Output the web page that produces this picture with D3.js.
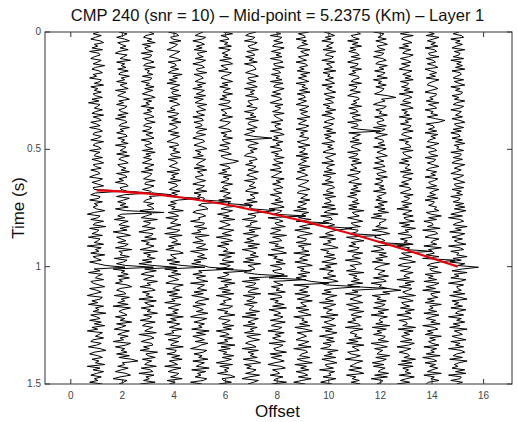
<!DOCTYPE html>
<html>
<head>
<meta charset="utf-8">
<script src="https://cdn.jsdelivr.net/npm/d3@7"></script>
<style>
  body { margin: 0; background: #fff; }
  svg { display: block; font-family: "Liberation Sans", Arial, sans-serif; }
</style>
</head>
<body>
<div id="chart"></div>
<script>
// Offsets (one trace per offset) and axis ticks
const offsets = [1, 2, 3, 4, 5, 6, 7, 8, 9, 10, 11, 12, 13, 14, 15];
const xTicks = [0, 2, 4, 6, 8, 10, 12, 14, 16];
const yTicks = [0, 0.5, 1, 1.5];

// Picked reflection (red curve), time in s at each offset
const pickTimes = [0.675, 0.680, 0.689, 0.701, 0.717, 0.735, 0.757, 0.780, 0.806, 0.834, 0.864, 0.896, 0.929, 0.964, 1.0];
// Strength of the reflection spike on each trace (offset units)
const pickAmps = [1.0, 1.1, 0.9, 1.0, 1.2, 1.0, 0.9, 1.1, 1.0, 0.9, 1.0, 1.1, 1.0, 0.9, 0.8];

// Second event, offsets 1..12
const secondTimes = [1.0, 1.0, 1.0, 1.005, 1.01, 1.02, 1.04, 1.055, 1.07, 1.085, 1.095, 1.1];
const secondAmps = [1.1, 1.2, 1.1, 1.2, 1.3, 1.0, 1.4, 1.1, 1.0, 1.2, 1.3, 0.8];

// Isolated strong spikes: [offset, time, amplitude]
const extraSpikes = [[2, 0.77, 1.6], [7, 0.45, 0.8], [11, 0.42, 1.0], [12, 0.28, 0.6], [2, 1.40, 0.6], [6, 0.55, 0.5], [14, 0.38, 0.5]];

// Noise samples for every trace, top to bottom (estimates, units of noiseScale offset)
const traceNoise = [
  [2,-3,4,-1,-5,3,6,-2,1,-4,5,-6,2,3,-2,-5,4,1,-3,7,-1,-4,2,5,-3,0,-6,4,3,-2,6,-5,1,-2,4,-3,-1,5,-4,2,-7,3,1,-2,5,-1,-4,6,-3,2,4,-5,0,3,-6,2,5,-2,-3,4,1,-5,6,-1,-3,2,4,-6,3,-1,-2,5,-4,2,6,-3,-1,4,-5,1,3,-2,-6,5,2,-4,1,6,-3,-2,4,-1,-5,3,2,-6,5,-2,1,-3,
   0,7,-2,-8,3,1,-5,6,-1,-3,8,-6,2,0,-4,5,-7,3,1,-2,6,-8,4,-1,2,-5,7,-3,0,4,-6,1,8,-4,-2,3,-7,5,1,-1,6,-5,-3,2,7,-6,0,4,-2,-8,5,3,-4,1,-7,6,-1,2,-3,8,-5,0,3,-6,4,-2,7,-4,1,-8,5,2,-1,6,-3,-5,4,0,-7,3,8,-2,-6,1,5,-4,2,-1,7,-8,3,-3,6,0,-5,4,-2,1,-6,5],
  [-3,4,1,-5,2,6,-4,-1,3,-2,5,-3,-6,4,1,-2,7,-5,2,-1,3,-4,5,-2,-3,6,-1,2,-5,4,-2,1,5,-6,3,-1,-4,2,6,-3,1,-5,4,2,-3,-1,5,-4,3,-6,2,4,-1,-3,6,-2,1,-5,3,4,-4,2,-1,5,-6,3,1,-2,4,-5,6,-1,-3,2,5,-4,-2,3,-1,6,-5,2,4,-3,1,-6,3,5,-2,-1,4,-3,2,-5,6,1,-4,3,-2,5,
   -6,3,8,-1,-4,2,-7,5,0,-3,6,-2,4,-8,1,7,-5,-1,3,-4,5,2,-6,8,-3,0,-2,6,-7,4,1,-5,3,7,-8,2,-1,5,-4,6,-3,0,-6,4,8,-2,-5,1,3,-7,6,-1,2,-4,5,-8,7,0,-3,1,4,-6,2,-2,8,-5,3,-1,-7,6,0,-4,5,-2,1,-8,7,3,-6,2,-1,4,-5,6,-3,8,-7,0,2,-4,5,-1,-6,3,7,-2,-8,4,1,-3],
  [1,5,-2,-4,3,-1,6,-5,2,-3,-1,4,-6,3,2,-5,1,5,-2,-4,6,-3,1,-1,4,-5,3,2,-6,1,-2,5,-3,4,-1,-5,2,6,-4,3,-2,1,-6,5,-1,3,-4,2,5,-3,-1,6,-2,-4,3,1,-5,4,-2,2,5,-6,1,3,-3,-1,4,-5,6,-2,2,-4,3,-1,-5,5,1,-3,4,-6,3,2,-1,-4,6,-2,-3,5,1,-5,2,4,-6,1,3,-2,-4,5,-1,3,
   5,-7,1,3,-2,-6,8,-4,2,0,-5,6,-1,-8,4,3,-3,7,-6,1,-2,5,0,-7,8,-4,2,-1,6,-5,3,-8,4,1,-3,7,-2,-6,5,0,-4,8,-1,2,-7,3,6,-5,1,-2,4,-8,7,-3,0,5,-6,2,-1,8,-4,3,1,-7,6,-2,-5,4,0,-3,7,-8,2,5,-1,-6,3,4,-4,1,-7,8,-2,0,6,-5,3,-1,-3,7,-6,2,4,-8,5,-2,1,-4,6,-7],
  [-5,2,4,-3,-1,6,-4,3,1,-2,-6,5,2,-1,-4,3,6,-5,1,2,-3,4,-2,-5,7,-1,3,-4,2,-6,5,1,-3,4,-2,-1,6,-5,3,-4,2,5,-1,-3,1,-6,4,2,-5,3,-2,6,-4,1,3,-1,-5,4,-3,5,1,-2,-6,3,4,-4,2,-1,5,-3,-2,6,-5,1,3,-1,-4,2,5,-6,4,-2,1,-3,6,-5,2,3,-1,-4,5,-2,3,-6,1,4,-3,2,-5,1,
   -2,8,-5,1,4,-7,3,0,-3,6,-1,-6,5,2,-8,7,-4,1,3,-2,6,-5,0,-7,4,8,-3,-1,2,-6,5,-4,7,1,-8,3,-2,6,-5,0,4,-3,-7,8,2,-1,5,-6,3,-4,7,-2,1,-8,6,0,-5,4,-1,3,-7,8,-3,2,-6,5,1,-4,7,-2,0,-8,6,3,-5,4,-1,-3,8,-7,2,1,-6,5,-2,7,-4,0,3,-8,6,-1,-5,4,2,-3,7,-6,1,-4],
  [3,-1,-4,5,2,-6,1,4,-3,2,-5,6,-2,-1,3,-4,5,1,-6,2,4,-3,-2,6,-5,1,3,-1,-4,5,-2,2,-6,4,1,-3,5,-5,3,-1,-4,6,-2,1,5,-3,-1,4,-6,2,3,-5,1,2,-4,6,-1,-3,5,-2,-6,3,4,-1,-5,2,6,-4,1,-2,3,-6,5,2,-1,-3,4,-5,6,-2,1,3,-4,-2,5,-1,-6,4,2,-3,6,-5,1,-2,4,3,-6,2,-1,5,
   7,-3,-6,2,5,-1,0,-8,4,3,-5,6,-2,1,-7,8,-4,-1,3,-6,5,2,-3,7,-8,0,4,-2,6,-5,1,-7,3,8,-4,-1,2,-6,5,-3,0,7,-8,4,1,-2,6,-5,3,-7,2,8,-1,-4,5,-6,0,3,-3,7,-2,-8,6,1,-5,4,-1,2,-7,8,-3,5,-6,0,4,-4,7,1,-2,-8,6,3,-5,2,-1,7,-6,4,0,-3,8,-7,5,-2,1,-4,6,3,-8,2],
  [-2,6,-4,1,3,-5,2,-1,5,-6,4,1,-3,2,-2,5,-5,3,6,-4,-1,2,-6,5,3,-2,-4,1,6,-3,2,-5,4,-1,-2,6,-3,1,-5,4,3,-6,2,5,-4,-1,1,-3,6,-2,-5,4,2,-1,-6,3,5,-4,1,-2,6,-3,-1,4,-5,2,3,-6,1,5,-4,-2,3,-1,6,-5,2,4,-3,1,-6,5,-2,3,1,-4,6,-1,-3,2,-5,4,1,-2,5,-6,3,2,-4,1,
   -4,6,1,-7,3,-2,8,-5,0,4,-1,-6,7,2,-3,5,-8,1,6,-4,3,-7,0,2,-2,8,-6,5,-1,-3,7,-5,4,1,-8,6,-2,3,0,-7,5,-4,8,-1,2,-6,4,-3,7,-8,1,5,-2,0,-5,6,3,-7,2,-1,8,-4,-6,4,1,-3,7,-2,5,-8,0,3,-5,6,-1,2,-7,8,-4,4,-6,1,-2,7,-3,5,0,-8,6,-5,3,-1,2,-7,4,8,-3,-2,5,-6],
  [4,-2,-5,3,1,-6,5,2,-3,-1,6,-4,1,3,-5,2,-2,5,-6,1,3,4,-1,-5,2,6,-3,-2,4,-4,1,5,-6,3,-1,2,-5,4,6,-3,-2,1,-4,5,3,-6,2,-1,4,-5,6,-2,-3,1,5,-4,3,-1,-6,2,4,-5,1,6,-2,-3,5,-1,2,-4,-6,3,5,-2,1,-5,4,2,-3,6,-1,-4,2,5,-6,3,1,-2,4,-3,-5,6,-1,2,3,-4,5,-6,1,-2,
   1,-6,7,-3,4,2,-8,5,-1,0,-5,8,-2,3,-7,6,1,-4,2,-6,7,-3,5,-8,0,4,-1,6,-5,2,-7,8,-3,1,3,-4,-6,5,0,-2,7,-8,4,2,-5,6,-1,-3,8,-7,3,1,-4,5,-6,2,0,-2,7,-5,4,-8,6,1,-3,3,-7,5,-1,2,-6,8,-4,0,7,-2,-5,1,4,-8,6,-3,2,-1,5,-7,3,8,-6,0,-4,4,1,-5,7,-2,-8,6,2,-3],
  [-1,3,-6,4,2,-3,5,-2,-4,6,1,-5,3,-1,4,-6,2,5,-3,-2,6,-4,1,3,-5,2,-1,4,-6,5,-2,-3,6,1,-4,3,-5,2,4,-1,-6,5,-2,3,1,-4,6,-3,-1,2,5,-5,3,-2,-1,4,-6,2,6,-3,1,-4,5,-1,2,-6,3,4,-5,1,-2,6,-3,-1,5,-4,2,3,-6,4,1,-2,-5,6,-1,3,-4,2,5,-3,-1,4,-6,1,3,-2,5,-5,2,6,
   -7,4,2,-3,6,-8,1,5,-2,0,7,-5,3,-1,-6,8,-4,2,4,-7,1,-2,6,-5,3,8,-8,0,-3,5,-1,7,-6,2,4,-4,-2,6,1,-7,8,-3,0,5,-5,2,-1,7,-8,3,4,-6,1,-2,6,-4,8,-7,0,3,-3,5,2,-6,7,-1,-5,4,1,-8,6,-2,3,-4,0,7,-7,5,2,-3,-1,8,-6,4,-5,1,6,-2,-8,3,7,-4,0,2,-6,5,-1,-3,8,-5],
  [5,-4,1,2,-6,3,-1,4,-3,-5,6,-2,1,5,-4,-1,3,-6,2,4,-3,1,-5,6,-2,3,-4,1,5,-6,2,-1,4,-3,6,-5,1,2,-4,3,-1,-6,5,2,-3,4,-2,1,6,-5,3,-1,-4,5,2,-6,4,-2,1,-3,5,3,-5,-1,6,-4,2,1,-3,4,-6,5,-2,3,-1,-4,6,-3,2,-5,1,4,-2,-6,5,3,-1,-4,2,6,-3,-5,4,1,-2,6,-4,3,-1,-5,
   3,-8,5,-1,2,-4,7,-6,0,4,-3,6,-7,1,8,-2,-5,3,2,-6,7,-4,1,-1,5,-8,6,0,-3,4,-7,2,8,-5,1,-2,6,-4,3,-6,0,7,-1,-8,5,2,-3,4,-7,6,1,-5,8,-2,0,3,-6,5,-4,2,7,-8,1,-1,4,-3,6,-7,2,8,-5,0,3,-2,-6,5,1,-4,7,-8,2,4,-1,-3,6,-5,0,8,-7,3,-2,5,-6,1,4,-4,7,-1,-8,2],
  [-4,1,5,-3,2,-6,4,1,-2,3,-5,6,-1,-3,4,2,-6,5,-2,1,3,-4,6,-5,1,-1,4,-3,2,5,-6,3,-2,1,6,-4,-1,5,-3,2,4,-5,1,-2,6,-3,3,-6,2,5,-1,-4,4,1,-5,3,-2,6,-4,2,-3,1,5,-6,3,-1,4,-2,-5,6,2,-3,1,4,-6,5,-1,-2,3,-4,6,-5,2,1,-3,4,-6,3,5,-1,-2,4,-5,6,-3,1,2,-4,5,-6,
   6,-1,-4,8,-7,2,3,-5,0,5,-2,-6,7,1,-3,4,-8,6,-1,2,-5,3,8,-7,0,-2,5,-4,6,1,-6,7,-3,2,-8,4,0,-1,6,-5,3,8,-7,-2,1,5,-4,2,-6,7,0,-3,4,-8,6,1,-5,3,-1,-2,8,-7,5,2,-4,0,6,-6,3,-3,7,1,-8,4,-2,5,-5,2,0,-7,8,-1,3,-4,6,-6,1,7,-3,-2,4,-8,5,0,2,-5,6,-1,-7,3],
  [2,5,-3,-1,4,-6,3,-2,6,-4,1,-5,2,4,-3,5,-1,-6,3,2,-4,6,-2,1,-5,3,4,-1,-3,6,-5,2,1,-4,5,-2,-6,3,4,-1,2,-3,6,-5,1,3,-4,5,-2,-1,6,-6,2,3,-3,4,-1,-5,5,1,-2,4,-4,6,-1,-3,2,5,-6,3,1,-5,4,-2,6,-3,-1,2,-4,5,3,-6,1,4,-2,-5,6,-1,3,-3,5,-4,2,-6,1,3,-2,4,-5,2,
   -5,8,-2,0,4,-6,1,7,-3,-1,5,-8,3,2,-4,6,-7,0,8,-3,1,-5,4,2,-6,7,-1,-2,5,-8,3,6,-4,0,1,-7,8,-5,2,-1,4,-3,7,-6,0,5,-2,3,-8,6,1,-4,2,7,-7,-1,4,-5,8,0,-3,6,-2,1,-6,3,5,-8,7,-1,-4,2,0,6,-5,3,-7,8,-2,1,4,-6,-3,5,0,-8,7,2,-1,-4,6,-5,3,8,-7,1,-2,4,-3,5],
  [-6,3,1,-2,5,-4,2,6,-3,-1,4,-5,3,1,-6,2,5,-2,-4,6,-1,3,-5,4,2,-3,6,-6,1,-2,5,-4,3,2,-1,-5,6,-3,1,4,-2,-6,5,3,-4,1,-1,6,-5,2,3,-3,-2,5,-6,4,1,-4,6,-1,-5,2,3,-2,4,-6,5,1,-3,2,6,-4,-1,3,-5,2,4,-6,1,5,-3,-2,6,-4,2,1,-5,3,-1,4,-6,5,2,-3,1,-4,6,-2,3,-5,
   4,-2,7,-6,1,-8,5,3,-1,0,-4,6,-7,2,8,-3,-5,1,4,-2,7,-6,0,3,-8,5,-1,6,-4,2,-7,8,1,-3,-5,4,0,-2,7,-6,3,5,-8,1,-1,6,-4,2,8,-7,0,-3,5,-5,4,1,-6,7,-2,3,-8,6,0,-1,2,-4,8,-7,5,-3,1,-6,4,3,-2,7,-8,0,6,-5,2,-1,-3,8,-4,5,1,-7,3,-6,4,0,-2,7,-5,6,-8,2,1,-3],
  [3,-5,6,-2,-4,1,5,-3,2,-6,4,-1,-3,6,2,-5,1,4,-4,3,-2,-6,5,1,-3,4,-1,6,-5,2,1,-4,3,-2,6,-6,2,5,-1,-3,4,-5,2,6,-4,1,-2,3,-6,5,-1,2,-5,4,3,-3,6,-2,-4,1,5,-6,2,-1,3,4,-5,6,-3,-2,1,5,-4,2,-6,3,1,-1,4,-5,6,-2,-3,5,1,-4,2,-6,3,4,-1,-5,6,-2,3,1,-4,5,-3,2,
   -8,5,1,-3,6,-2,0,7,-6,3,-4,8,-1,2,-7,4,5,-5,1,-2,6,-8,3,0,7,-4,-1,5,-6,2,8,-3,-7,4,1,-5,6,0,-2,3,-8,7,-1,4,-6,5,2,-3,0,8,-7,1,6,-4,-2,3,-5,7,-1,4,-8,2,5,-6,0,1,-3,8,-7,6,-2,3,-4,-1,5,-5,7,2,-8,4,0,-6,1,3,-2,8,-4,5,-7,6,-3,2,-1,4,-6,7,0,-5,3,-8],
  [-3,2,-5,6,1,-4,3,-1,5,-6,2,4,-3,-2,6,-5,1,3,-4,2,5,-6,-1,4,-2,3,-5,6,1,-3,-4,2,5,-1,-6,4,3,-2,1,-5,6,-3,2,4,-6,1,-1,5,-4,3,-2,6,-5,1,2,-3,4,-6,5,-1,3,-2,-4,6,1,-5,2,4,-3,-1,5,-6,3,2,-4,1,6,-2,-5,4,-1,3,-6,5,2,-3,-1,4,-5,6,1,-2,3,-4,5,-6,2,1,-3,4,
   2,6,-5,-1,8,-3,4,-7,0,1,-4,7,-8,3,5,-2,-6,6,1,-1,4,-7,8,-3,0,2,-5,6,-8,3,7,-1,-4,5,-2,0,8,-6,1,-3,4,-7,6,2,-5,3,-8,7,-1,0,5,-4,2,-6,8,-2,1,-3,4,-7,6,0,-5,3,-1,7,-8,2,5,-4,1,-6,8,-2,3,-3,0,6,-7,4,-1,2,-5,7,-8,1,4,-6,3,-2,5,0,-4,8,-7,2,-1,6,-3,-5],
  [1,-4,3,5,-6,2,-2,4,-1,-5,6,-3,2,1,-4,5,-6,3,-1,4,-2,6,-5,2,3,-1,-4,5,-3,1,6,-6,2,-2,4,3,-5,1,-3,6,-1,-4,5,2,-6,3,1,-2,4,-5,2,6,-3,-1,5,-4,3,-6,1,2,-5,4,-2,6,-3,1,-1,5,-6,3,2,-4,4,-2,-5,6,1,-3,3,-1,-6,5,2,-4,1,6,-3,-2,5,-5,3,-1,4,-6,2,1,-4,5,-2,6,
   -3,7,0,-6,4,-8,2,5,-1,-4,8,-2,3,-7,6,1,-5,4,-3,0,7,-8,2,5,-6,1,-1,8,-4,3,-7,6,0,-2,4,-5,8,-3,1,-6,7,2,-8,5,-1,0,3,-4,6,-7,2,8,-5,1,-3,4,-6,7,0,-2,5,-8,3,-1,6,-4,2,-7,8,-3,1,4,-5,0,7,-6,2,-2,5,-8,3,6,-1,-4,4,-7,8,1,-3,0,-5,6,-2,7,-8,3,2,-6,4,-1]
];

const noiseScale = 0.045;
const tMax = 1.5;

const width = 518, height = 422;
const margin = {top: 32, right: 6, bottom: 38, left: 45};

const svg = d3.select('#chart')
  .append('svg')
  .attr('width', width)
  .attr('height', height);

const x = d3.scaleLinear().domain([-1, 17.1]).range([margin.left, width - margin.right]);
const y = d3.scaleLinear().domain([0, tMax]).range([margin.top, height - margin.bottom]);

// Build trace samples: noise plus spikes at events
function buildTrace(k, idx) {
  const noise = traceNoise[idx];
  const n = noise.length;
  const dt = tMax / (n - 1);
  const amps = noise.map(v => v * noiseScale);
  const addSpike = (t, a) => {
    const i = Math.round(t / dt);
    if (i >= 0 && i < n) amps[i] = a;
  };
  addSpike(pickTimes[idx] + 0.006, pickAmps[idx]);
  if (idx < secondTimes.length) addSpike(secondTimes[idx], secondAmps[idx]);
  extraSpikes.filter(s => s[0] === k).forEach(s => addSpike(s[1], s[2]));
  return amps.map((a, i) => ({off: k + a, t: i * dt}));
}

svg.append('clipPath').attr('id', 'plot-clip')
  .append('rect')
  .attr('x', margin.left).attr('y', margin.top)
  .attr('width', width - margin.left - margin.right)
  .attr('height', height - margin.top - margin.bottom);

const wiggle = d3.line().x(d => x(d.off)).y(d => y(d.t));

const traces = svg.append('g').attr('clip-path', 'url(#plot-clip)');
offsets.forEach((k, idx) => {
  traces.append('path')
    .datum(buildTrace(k, idx))
    .attr('d', wiggle)
    .attr('fill', 'none')
    .attr('stroke', '#000')
    .attr('stroke-width', 1);
});

// Picked curve
const pick = offsets.map((k, i) => ({off: k, t: pickTimes[i]}));
svg.append('path')
  .datum(pick)
  .attr('d', d3.line().x(d => x(d.off)).y(d => y(d.t)).curve(d3.curveMonotoneX))
  .attr('fill', 'none')
  .attr('stroke', '#e8000b')
  .attr('stroke-width', 2.2);

// Frame
const x0 = margin.left, x1 = width - margin.right;
const y0 = margin.top, y1 = height - margin.bottom;
svg.append('rect')
  .attr('x', x0).attr('y', y0)
  .attr('width', x1 - x0).attr('height', y1 - y0)
  .attr('fill', 'none').attr('stroke', '#333').attr('stroke-width', 1);

// Ticks pointing inward on all four sides
const tickLen = 5;
const tickG = svg.append('g').attr('stroke', '#333').attr('stroke-width', 1);
xTicks.forEach(v => {
  tickG.append('line').attr('x1', x(v)).attr('x2', x(v)).attr('y1', y1).attr('y2', y1 - tickLen);
  tickG.append('line').attr('x1', x(v)).attr('x2', x(v)).attr('y1', y0).attr('y2', y0 + tickLen);
});
yTicks.forEach(v => {
  tickG.append('line').attr('x1', x0).attr('x2', x0 + tickLen).attr('y1', y(v)).attr('y2', y(v));
  tickG.append('line').attr('x1', x1).attr('x2', x1 - tickLen).attr('y1', y(v)).attr('y2', y(v));
});

// Tick labels
svg.append('g').selectAll('text')
  .data(xTicks)
  .enter().append('text')
  .attr('x', d => x(d))
  .attr('y', y1 + 15)
  .attr('text-anchor', 'middle')
  .attr('font-size', 10)
  .attr('fill', '#444')
  .text(d => d);

svg.append('g').selectAll('text')
  .data(yTicks)
  .enter().append('text')
  .attr('x', x0 - 4)
  .attr('y', d => y(d) + 3)
  .attr('text-anchor', 'end')
  .attr('font-size', 10)
  .attr('fill', '#444')
  .text(d => d);

// Titles
svg.append('text')
  .attr('x', (x0 + x1) / 2 - 1)
  .attr('y', 21)
  .attr('text-anchor', 'middle')
  .attr('font-size', 16.5)
  .attr('fill', '#111')
  .text('CMP 240 (snr = 10) – Mid-point = 5.2375 (Km) – Layer 1');

svg.append('text')
  .attr('x', (x0 + x1) / 2 - 1)
  .attr('y', 417)
  .attr('text-anchor', 'middle')
  .attr('font-size', 17)
  .attr('fill', '#111')
  .text('Offset');

svg.append('text')
  .attr('transform', `translate(24,${(y0 + y1) / 2}) rotate(-90)`)
  .attr('text-anchor', 'middle')
  .attr('font-size', 17)
  .attr('fill', '#111')
  .text('Time (s)');
</script>
</body>
</html>
